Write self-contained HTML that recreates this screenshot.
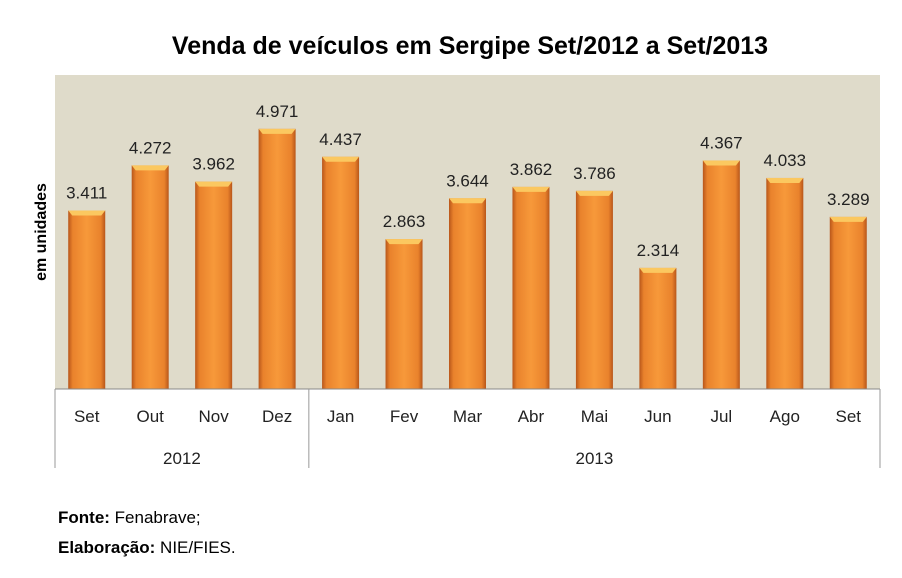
<!DOCTYPE html>
<html><head><meta charset="utf-8"><style>
body{margin:0;background:#fff;width:902px;height:573px;overflow:hidden;font-family:"Liberation Sans",sans-serif}
</style></head><body>
<svg id="chart" width="902" height="573" xmlns="http://www.w3.org/2000/svg">
<defs>
<linearGradient id="barg" x1="0" x2="1" y1="0" y2="0">
<stop offset="0" stop-color="#b8561a"/><stop offset="0.12" stop-color="#e9822c"/><stop offset="0.5" stop-color="#f7993a"/><stop offset="0.88" stop-color="#e9822c"/><stop offset="1" stop-color="#b8561a"/>
</linearGradient>
</defs>
<text x="470" y="54" text-anchor="middle" font-size="25" font-weight="bold" fill="#000">Venda de veículos em Sergipe Set/2012 a Set/2013</text>
<rect x="55" y="75" width="825" height="314" fill="#dfdbca"/>
<text transform="translate(46,232) rotate(-90)" text-anchor="middle" font-size="16" font-weight="bold">em unidades</text>
<g id="bars"></g>
<g id="axis"></g>
<text x="58" y="523" font-size="17"><tspan font-weight="bold">Fonte:</tspan> Fenabrave;</text>
<text x="58" y="553" font-size="17"><tspan font-weight="bold">Elaboração:</tspan> NIE/FIES.</text>
</svg>
<script>
const categories=["Set","Out","Nov","Dez","Jan","Fev","Mar","Abr","Mai","Jun","Jul","Ago","Set"];
const values=[3411,4272,3962,4971,4437,2863,3644,3862,3786,2314,4367,4033,3289];
const labels=["3.411","4.272","3.962","4.971","4.437","2.863","3.644","3.862","3.786","2.314","4.367","4.033","3.289"];
const years=["2012","2013"];
const yearCounts=[4,9];
const yMax=6000;
const NS="http://www.w3.org/2000/svg";
const L=55,R=880,T=75,B=389,bw=(R-L)/categories.length,barW=37;
const x=i=>L+bw*(i+0.5);
const y=v=>B-(v/yMax)*(B-T);
function mk(tag,attrs,parent){const e=document.createElementNS(NS,tag);for(const k in attrs)e.setAttribute(k,attrs[k]);parent.appendChild(e);return e;}
const gb=document.getElementById('bars'),ga=document.getElementById('axis');
values.forEach((v,i)=>{
 const top=y(v),cx=x(i);
 const r=mk('rect',{x:cx-barW/2,y:top,width:barW,height:B-top,fill:'url(#barg)'},gb);
 
 
 const h=mk('polygon',{points:`${cx-barW/2},${top} ${cx+barW/2},${top} ${cx+barW/2-4},${top+5} ${cx-barW/2+4},${top+5}`,fill:'#fbc860'},gb);
 
 
 const t=mk('text',{x:cx,y:top-12,'text-anchor':'middle','font-size':'17',fill:'#222'},gb);
 t.textContent=labels[i];
 
 
 const c=mk('text',{x:cx,y:422,'text-anchor':'middle','font-size':'17',fill:'#222'},ga);
 c.textContent=categories[i];
 
 
});
const ax=mk('line',{x1:L,x2:R,y1:B,y2:B,stroke:'#888'},ga);


let start=0;
[0].concat(yearCounts.map((c,i)=>yearCounts.slice(0,i+1).reduce((a,b)=>a+b,0))).forEach(k=>{
 const xx=L+bw*k;
 const s=mk('line',{x1:xx,x2:xx,y1:B,y2:468,stroke:'#999'},ga);
 
 
});
years.forEach((yr,i)=>{
 const cx=L+bw*(start+yearCounts[i]/2);
 start+=yearCounts[i];
 const t=mk('text',{x:cx,y:464,'text-anchor':'middle','font-size':'17',fill:'#222'},ga);
 t.textContent=yr;
 
 
});
</script>
</body></html>
